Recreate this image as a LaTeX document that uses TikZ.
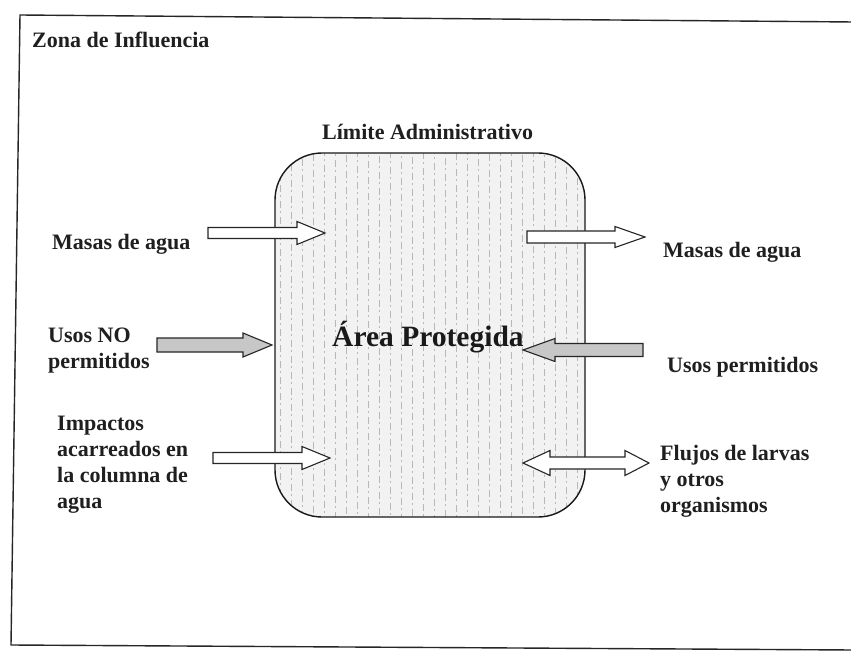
\documentclass[tikz,border=0pt]{standalone}
\usepackage{fontspec}
\setmainfont{Liberation Serif}
\newcommand{\blockarrow}[7]{\draw[#1] (#2,#5-#6) -- (#3,#5-#6) -- (#3,#5-#7) -- (#4,#5) -- (#3,#5+#7) -- (#3,#5+#6) -- (#2,#5+#6) -- cycle;}
\tikzset{
  frameline/.style={line width=1.4pt, draw=black!85},
  lbl/.style={inner sep=0pt, anchor=base west, align=left, text=black!88,
    font=\fontsize{22}{26}\selectfont\bfseries},
  hatch/.style={draw=black!28, line width=0.45pt, dash pattern=on 7pt off 3pt on 2pt off 4pt},
  areabox/.style={draw=black!90, line width=1.4pt, fill=black!5, rounded corners=47pt,
    minimum width=310pt, minimum height=364pt, inner sep=0pt, text=black!90,
    font=\fontsize{29.5}{33}\selectfont\bfseries},
  warrow/.style={draw=black!85, line width=1.1pt, fill=white, line join=miter},
  garrow/.style={draw=black!85, line width=1.1pt, fill=black!22, line join=miter}
}
\begin{document}
\begin{tikzpicture}[x=1pt,y=-1pt]
\useasboundingbox (0,0) rectangle (851,652);
\fill[white] (0,0) rectangle (851,652);
% outer frame (zona de influencia)
\draw[frameline] (853,22) -- (20,15) -- (11,645) -- (853,650);
\node[lbl] (zona) at (32,48) {Zona de Influencia};
\node[lbl] (limite) at (322,140) {Límite Administrativo};
% protected area
\node[areabox, path picture={
  \foreach \i in {0,...,28} {
    \draw[hatch, dash phase=\i*5pt] ([xshift=\i*11pt+5pt]path picture bounding box.north west) -- ([xshift=\i*11pt+5pt]path picture bounding box.south west);
  }}] (area) at (430,335) {};
\node[inner sep=0pt, anchor=base west, text=black!90, font=\fontsize{29.5}{33}\selectfont\bfseries] (areatxt) at (332,346) {Área Protegida};
% labels (base = baseline of the last line)
\node[lbl] (masasL) at (52,250) {Masas de agua};
\node[lbl] (masasR) at (663,258) {Masas de agua};
\node[lbl] (usosno) at (48,368) {Usos NO\\permitidos};
\node[lbl] (usosp) at (667,372) {Usos permitidos};
\node[lbl] (impactos) at (57,508) {Impactos\\acarreados en\\la columna de\\agua};
\node[lbl] (flujos) at (660,512) {Flujos de larvas\\y otros\\organismos};
% block arrows
\blockarrow{warrow}{208}{297}{325}{233}{5.5}{11.5}
\blockarrow{warrow}{527}{615}{645}{237}{6}{10.5}
\blockarrow{garrow}{157}{243}{272}{345}{7}{12}
\blockarrow{garrow}{643}{555}{523}{350}{6.5}{11.5}
\blockarrow{warrow}{213}{302}{330}{458}{5.5}{11.5}
\draw[warrow] (523,463) -- (550,450.5) -- (550,457) -- (625,457) -- (625,450.5) -- (649,463) -- (625,475.5) -- (625,469) -- (550,469) -- (550,475.5) -- cycle;
\end{tikzpicture}
\end{document}
